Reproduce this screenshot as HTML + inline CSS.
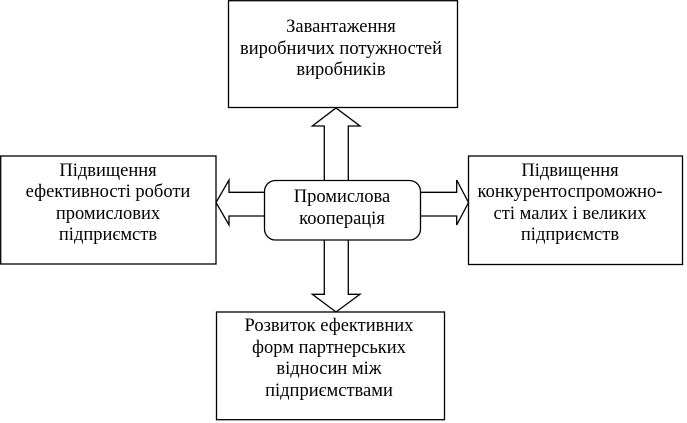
<!DOCTYPE html>
<html>
<head>
<meta charset="utf-8">
<style>
  html, body { margin: 0; padding: 0; background: #fff; }
  body { position: relative; width: 687px; height: 423px; overflow: hidden; }
  svg { position: absolute; left: 0; top: 0; display: block; }
  .t {
    position: absolute;
    width: 300px;
    text-align: center;
    white-space: nowrap;
    font-family: "Times New Roman", "Liberation Serif", "Noto Serif CJK SC", "DejaVu Serif", serif;
    font-size: 18.5px;
    line-height: 21.5px;
    color: #000;
  }
</style>
</head>
<body>
<svg width="687" height="423" viewBox="0 0 687 423" xmlns="http://www.w3.org/2000/svg">
  <g fill="none" stroke="#000" stroke-width="1.3">
    <rect x="228.5" y="0.7" width="229" height="106.8"/>
    <rect x="0.7" y="156" width="215.3" height="108"/>
    <rect x="468.5" y="156" width="214" height="108.5"/>
    <rect x="216.5" y="312" width="228" height="107.7"/>
    <rect x="264.5" y="180.5" width="156" height="59.5" rx="11" ry="11"/>
    <polyline points="324.3,180.5 324.3,126 312.3,126 336,108 360,126 348.3,126 348.3,180.5"/>
    <polyline points="324.3,240 324.3,294.3 312.3,294.3 336,312 360,294.3 348.3,294.3 348.3,240"/>
    <polyline points="264.5,192.3 229,192.3 229,180 216,202.5 229,225 229,216 264.5,216"/>
    <polyline points="420.5,192.3 456.7,192.3 456.7,180 468.5,202.5 456.7,225 456.7,216 420.5,216"/>
  </g>
</svg>
<div class="t" style="left:191px; top:17px;">Завантаження<br>виробничих потужностей<br>виробників</div>
<div class="t" style="left:-42px; top:160.5px;">Підвищення<br>ефективності роботи<br>промислових<br>підприємств</div>
<div class="t" style="left:420px; top:160.5px;">Підвищення<br>конкурентоспроможно-<br>сті малих і великих<br>підприємств</div>
<div class="t" style="left:192px; top:187px;">Промислова<br>кооперація</div>
<div class="t" style="left:179px; top:316px;">Розвиток ефективних<br>форм партнерських<br>відносин між<br>підприємствами</div>
</body>
</html>
